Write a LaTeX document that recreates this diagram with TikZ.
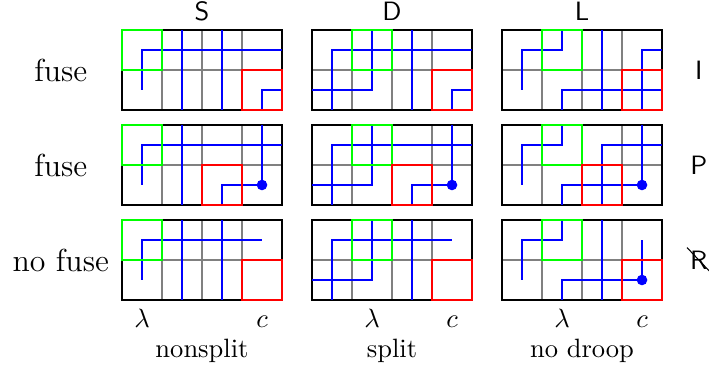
\documentclass[tikz,border=0pt]{standalone}
\usepackage{tikz}
\usepackage{amsmath}

\begin{document}
\begin{tikzpicture}[x=0.53cm, y=0.53cm,
			gridline/.style={gray, thin},
			frame/.style={black, thick},
			wire/.style={blue, thick},
			gbox/.style={green, thick},
			rbox/.style={red, thick}]
			\useasboundingbox (-3.05, -1.775) rectangle (14.675, 7.5);
			% 网格与边框
			\foreach \c in {0, 1, 2}
			\foreach \r in {0, 1, 2}
			{
				\begin{scope}[shift={({4.75*\c}, {2.375*\r})}]
					\draw[gridline, step=1] (0, 0) grid (4, 2);
					\draw[frame] (0, 0) rectangle (4, 2);
				\end{scope}
			}
			% 第一行 I
			\begin{scope}[shift={(0, 4.75)}]
				\draw[wire] (0.5, 0.5) -- (0.5, 1.5) -- (4, 1.5);
				\draw[wire] (1.5, 0) -- (1.5, 2);
				\draw[wire] (2.5, 0) -- (2.5, 2);
				\draw[wire] (3.5, 0) -- (3.5, 0.5) -- (4, 0.5);
			\end{scope}
			\begin{scope}[shift={(4.75, 4.75)}]
				\draw[wire] (0.5, 0) -- (0.5, 1.5) -- (4, 1.5);
				\draw[wire] (1.5, 2) -- (1.5, 0.5) -- (0, 0.5);
				\draw[wire] (2.5, 0) -- (2.5, 2);
				\draw[wire] (3.5, 0) -- (3.5, 0.5) -- (4, 0.5);
			\end{scope}
			\begin{scope}[shift={(9.5, 4.75)}]
				\draw[wire] (0.5, 0.5) -- (0.5, 1.5) -- (1.5, 1.5) -- (1.5, 2);
				\draw[wire] (2.5, 0) -- (2.5, 2);
				\draw[wire] (1.5, 0) -- (1.5, 0.5) -- (4, 0.5);
				\draw[wire] (3.5, 0) -- (3.5, 1.5) -- (4, 1.5);
			\end{scope}
			% 第二行 P
			\begin{scope}[shift={(0, 2.375)}]
				\draw[wire] (0.5, 0.5) -- (0.5, 1.5) -- (4, 1.5);
				\draw[wire] (1.5, 0) -- (1.5, 2);
				\draw[wire] (2.5, 0) -- (2.5, 0.5) -- (3.5, 0.5) -- (3.5, 2);
				\fill[blue] (3.5, 0.5) circle (2pt);
			\end{scope}
			\begin{scope}[shift={(4.75, 2.375)}]
				\draw[wire] (0.5, 0) -- (0.5, 1.5) -- (4, 1.5);
				\draw[wire] (1.5, 2) -- (1.5, 0.5) -- (0, 0.5);
				\draw[wire] (2.5, 0) -- (2.5, 0.5) -- (3.5, 0.5) -- (3.5, 2);
				\fill[blue] (3.5, 0.5) circle (2pt);
			\end{scope}
			\begin{scope}[shift={(9.5, 2.375)}]
				\draw[wire] (0.5, 0.5) -- (0.5, 1.5) -- (1.5, 1.5) -- (1.5, 2);
				\draw[wire] (1.5, 0) -- (1.5, 0.5) -- (3.5, 0.5) -- (3.5, 2);
				\draw[wire] (2.5, 0) -- (2.5, 1.5) -- (4, 1.5);
				\fill[blue] (3.5, 0.5) circle (2pt);
			\end{scope}
			% 第三行 R
			\begin{scope}[shift={(0, 0)}]
				\draw[wire] (0.5, 0.5) -- (0.5, 1.5) -- (3.5, 1.5);
				\draw[wire] (1.5, 0) -- (1.5, 2);
				\draw[wire] (2.5, 0) -- (2.5, 2);
			\end{scope}
			\begin{scope}[shift={(4.75, 0)}]
				\draw[wire] (0.5, 0) -- (0.5, 1.5) -- (3.5, 1.5);
				\draw[wire] (1.5, 2) -- (1.5, 0.5) -- (0, 0.5);
				\draw[wire] (2.5, 0) -- (2.5, 2);
			\end{scope}
			\begin{scope}[shift={(9.5, 0)}]
				\draw[wire] (0.5, 0.5) -- (0.5, 1.5) -- (1.5, 1.5) -- (1.5, 2);
				\draw[wire] (2.5, 0) -- (2.5, 2);
				\draw[wire] (1.5, 0) -- (1.5, 0.5) -- (3.5, 0.5) -- (3.5, 1.5);
				\fill[blue] (3.5, 0.5) circle (2pt);
			\end{scope}
			% 绿框与红框
			\foreach \c/\gx in {0/0, 1/1, 2/1}
			\foreach \r in {0, 1, 2}
			\draw[gbox] ({4.75*\c+\gx}, {2.375*\r+1}) rectangle ++(1, 1);
			\foreach \c in {0, 1, 2}
			\foreach \r/\rx in {0/3, 1/2, 2/3}
			\draw[rbox] ({4.75*\c+\rx}, {2.375*\r}) rectangle ++(1, 1);
			% 列标签
			\foreach \c/\ctext in {0/S, 1/D, 2/L}
			\node[above, font=\sffamily] (col\ctext) at ({4.75*\c+2}, 6.75) {\ctext};
			% 行标签
			\node[font=\large] (fuseI) at (-1.53, 5.75) {fuse};
			\node[font=\large] (fuseP) at (-1.53, 3.375) {fuse};
			\node[font=\large] (fuseR) at (-1.53, 1) {no fuse};
			\node[font=\sffamily] (rowI) at (14.42, 5.75) {I};
			\node[font=\sffamily] (rowP) at (14.42, 3.375) {P};
			\node[font=\sffamily, inner sep=1pt] (rowR) at (14.42, 1) {R};
			\draw (rowR.north west) -- (rowR.south east);
			% 底部标签
			\foreach \c/\lx/\ntext in {0/0.5/nonsplit, 1/1.5/split, 2/1.5/no droop}
			{
				\node[anchor=base] (lam\c) at ({4.75*\c+\lx}, -0.7) {$\lambda$};
				\node[anchor=base] (cap\c) at ({4.75*\c+3.5}, -0.7) {$c$};
				\node[anchor=base] (name\c) at ({4.75*\c+2}, -1.45) {\ntext};
			}
		\end{tikzpicture}
\end{document}
